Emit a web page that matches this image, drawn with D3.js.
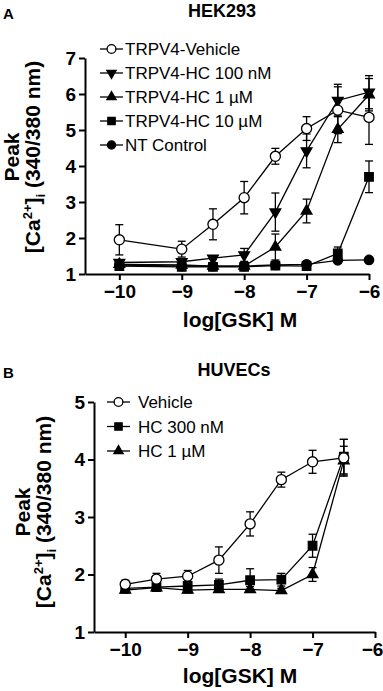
<!DOCTYPE html>
<html>
<head>
<meta charset="utf-8">
<script src="https://cdn.jsdelivr.net/npm/d3@7"></script>
<style>
  body { margin: 0; background: #fff; }
  svg text { font-family: Arial, "Liberation Sans", Helvetica, sans-serif; }
</style>
</head>
<body>
<div id="main"></div>
<script>
// ---- panel A : HEK293 ----
const hekDoses = [-10, -9, -8.5, -8, -7.5, -7, -6.5, -6];
const hekVehicle = [1.95, 1.69, 2.38, 3.12, 4.27, 5.04, 5.55, 5.35];
const hekVehicleErr = [0.42, 0.22, 0.43, 0.45, 0.22, 0.33, 0.65, 0.75];
const hekHC100 = [1.32, 1.34, 1.44, 1.53, 2.72, 4.42, 5.82, 6.05];
const hekHC100Err = [0.05, 0.05, 0.04, 0.18, 0.53, 0.47, 0.45, 0.46];
const hekHC1 = [1.27, 1.25, 1.22, 1.22, 1.75, 2.75, 5.02, 5.98];
const hekHC1Err = [0.04, 0.04, 0.03, 0.04, 0.36, 0.33, 0.37, 0.45];
const hekHC10 = [1.22, 1.2, 1.2, 1.2, 1.23, 1.22, 1.57, 3.7];
const hekHC10Err = [0.04, 0.03, 0.03, 0.03, 0.04, 0.03, 0.18, 0.44];
const hekNT = [1.25, 1.22, 1.22, 1.22, 1.25, 1.27, 1.38, 1.39];
const hekNTErr = [0.03, 0.03, 0.02, 0.02, 0.02, 0.02, 0.03, 0.03];
const hekLabels = ["TRPV4-Vehicle", "TRPV4-HC 100 nM", "TRPV4-HC 1 \u00b5M", "TRPV4-HC 10 \u00b5M", "NT Control"];
const hekYTicks = [1, 2, 3, 4, 5, 6, 7];

// ---- panel B : HUVECs ----
const huvDoses = [-10, -9.5, -9, -8.5, -8, -7.5, -7, -6.5];
const huvVehicle = [1.83, 1.92, 1.97, 2.25, 2.88, 3.65, 3.96, 4.03];
const huvVehicleErr = [0.07, 0.1, 0.1, 0.23, 0.21, 0.13, 0.2, 0.32];
const huvHC300 = [1.76, 1.78, 1.8, 1.82, 1.9, 1.91, 2.5, 4.05];
const huvHC300Err = [0.05, 0.05, 0.05, 0.1, 0.2, 0.11, 0.2, 0.3];
const huvHC1 = [1.73, 1.77, 1.73, 1.74, 1.74, 1.72, 2.0, 3.98];
const huvHC1Err = [0.05, 0.05, 0.05, 0.05, 0.05, 0.04, 0.12, 0.25];
const huvLabels = ["Vehicle", "HC 300 nM", "HC 1 \u00b5M"];
const huvYTicks = [1, 2, 3, 4, 5];

const xTicks = [-10, -9, -8, -7, -6];

const svg = d3.select("#main").append("svg")
    .attr("width", 383)
    .attr("height", 691);

// marker shapes
const shapes = {
    open: {type: d3.symbolCircle, size: 80, fill: "#fff", rot: 0},
    down: {type: d3.symbolTriangle, size: 50, fill: "#000", rot: 180},
    up: {type: d3.symbolTriangle, size: 50, fill: "#000", rot: 0},
    square: {type: d3.symbolSquare, size: 72, fill: "#000", rot: 0},
    dot: {type: d3.symbolCircle, size: 70, fill: "#000", rot: 0}
};

function drawPanel(cfg) {
    const g = svg.append("g");
    const x = d3.scaleLinear().domain(cfg.xDomain).range(cfg.xRange);
    const y = d3.scaleLinear().domain(cfg.yDomain).range(cfg.yRange);

    // panel letter + title
    g.append("text").attr("x", 3).attr("y", cfg.letterY)
        .style("font-size", "15px").style("font-weight", "bold").text(cfg.letter);
    g.append("text").attr("x", cfg.titleX).attr("y", cfg.titleY)
        .attr("text-anchor", "middle")
        .style("font-size", "18px").style("font-weight", "bold").text(cfg.title);

    // axes
    const yAxis = g.append("g")
        .attr("transform", `translate(${cfg.xRange[0]},0)`)
        .call(d3.axisLeft(y).tickValues(cfg.yTicks).tickSize(6).tickSizeOuter(0).tickPadding(3).tickFormat(d3.format("d")));
    const xAxis = g.append("g")
        .attr("transform", `translate(0,${cfg.yRange[0]})`)
        .call(d3.axisBottom(x).tickValues(xTicks).tickSize(6).tickSizeOuter(0).tickPadding(5).tickFormat(d3.format("d")));
    [yAxis, xAxis].forEach(a => {
        a.selectAll("path, line").attr("stroke", "#000").attr("stroke-width", 2);
        a.selectAll("text").style("font-size", "19px").style("font-weight", "bold")
            .style("font-family", "Arial, 'Liberation Sans', sans-serif").attr("fill", "#000");
    });
    // keep the last x label inside the page
    xAxis.selectAll(".tick text").filter(d => d === -6).attr("dx", cfg.lastTickDx || 0);

    // axis titles
    g.append("text").attr("x", cfg.xTitleX).attr("y", cfg.xTitleY)
        .attr("text-anchor", "middle")
        .style("font-size", "21px").style("font-weight", "bold").text("log[GSK] M");
    const yc = cfg.yTitleY;
    g.append("text").attr("transform", `translate(${cfg.yTitle1X},${yc}) rotate(-90)`)
        .attr("text-anchor", "middle")
        .style("font-size", "21px").style("font-weight", "bold").text("Peak");
    const t2 = g.append("text").attr("transform", `translate(${cfg.yTitle2X},${yc}) rotate(-90)`)
        .attr("text-anchor", "middle")
        .style("font-size", "21px").style("font-weight", "bold");
    t2.append("tspan").text("[Ca");
    t2.append("tspan").attr("dy", -8).style("font-size", "13px").text("2+");
    t2.append("tspan").attr("dy", 8).text("]");
    t2.append("tspan").attr("dy", 5).style("font-size", "13px").text("i");
    t2.append("tspan").attr("dy", -5).text(" (340/380 nm)");

    // series: lines, error bars, markers
    const line = d3.line().x(d => x(d.dose)).y(d => y(d.val));
    cfg.series.forEach(s => {
        const pts = cfg.doses.map((dose, i) => ({dose: dose, val: s.values[i], err: s.errs[i]}));
        const sg = g.append("g");
        sg.append("path").datum(pts).attr("d", line)
            .attr("fill", "none").attr("stroke", "#000").attr("stroke-width", 1.3);
        const eb = sg.selectAll("g.err").data(pts).enter().append("g");
        eb.append("line").attr("x1", d => x(d.dose)).attr("x2", d => x(d.dose))
            .attr("y1", d => y(d.val - d.err)).attr("y2", d => y(d.val + d.err));
        eb.append("line").attr("x1", d => x(d.dose) - 4).attr("x2", d => x(d.dose) + 4)
            .attr("y1", d => y(d.val + d.err)).attr("y2", d => y(d.val + d.err));
        eb.append("line").attr("x1", d => x(d.dose) - 4).attr("x2", d => x(d.dose) + 4)
            .attr("y1", d => y(d.val - d.err)).attr("y2", d => y(d.val - d.err));
        eb.selectAll("line").attr("stroke", "#000").attr("stroke-width", 1.3);
        const sh = shapes[s.shape];
        sg.selectAll("path.mk").data(pts).enter().append("path")
            .attr("class", "mk")
            .attr("d", d3.symbol().type(sh.type).size(sh.size))
            .attr("transform", d => `translate(${x(d.dose)},${y(d.val)}) rotate(${sh.rot})`)
            .attr("fill", sh.fill).attr("stroke", "#000").attr("stroke-width", 1.3);
    });

    // legend (same order as the labels)
    cfg.legendOrder.forEach((s, i) => {
        const ly = cfg.legendY + i * cfg.legendStep;
        const sh = shapes[s.shape];
        g.append("line").attr("x1", cfg.legendX).attr("x2", cfg.legendX + cfg.legendW)
            .attr("y1", ly).attr("y2", ly).attr("stroke", "#000").attr("stroke-width", 1.3);
        g.append("path").attr("d", d3.symbol().type(sh.type).size(sh.size * 0.75))
            .attr("transform", `translate(${cfg.legendX + cfg.legendW / 2},${ly}) rotate(${sh.rot})`)
            .attr("fill", sh.fill).attr("stroke", "#000").attr("stroke-width", 1.3);
        g.append("text").attr("x", cfg.legendX + cfg.legendW + cfg.legendGap).attr("y", ly + 6)
            .style("font-size", "17px").text(s.label);
    });
}

const hekSeries = [
    {label: hekLabels[0], shape: "open", values: hekVehicle, errs: hekVehicleErr},
    {label: hekLabels[1], shape: "down", values: hekHC100, errs: hekHC100Err},
    {label: hekLabels[2], shape: "up", values: hekHC1, errs: hekHC1Err},
    {label: hekLabels[3], shape: "square", values: hekHC10, errs: hekHC10Err},
    {label: hekLabels[4], shape: "dot", values: hekNT, errs: hekNTErr}
];
drawPanel({
    letter: "A", letterY: 19, title: "HEK293", titleX: 222, titleY: 17,
    xDomain: [-10.55, -6], xRange: [85, 369],
    yDomain: [1, 7], yRange: [274, 58], yTicks: hekYTicks,
    doses: hekDoses,
    series: [hekSeries[4], hekSeries[3], hekSeries[2], hekSeries[1], hekSeries[0]],
    legendOrder: hekSeries,
    legendX: 100, legendW: 23, legendGap: 2, legendY: 49, legendStep: 24,
    xTitleX: 240, xTitleY: 327,
    yTitle1X: 19, yTitle2X: 40, yTitleY: 157
});

const huvSeries = [
    {label: huvLabels[0], shape: "open", values: huvVehicle, errs: huvVehicleErr},
    {label: huvLabels[1], shape: "square", values: huvHC300, errs: huvHC300Err},
    {label: huvLabels[2], shape: "up", values: huvHC1, errs: huvHC1Err}
];
drawPanel({
    letter: "B", letterY: 378, title: "HUVECs", titleX: 234, titleY: 376,
    xDomain: [-10.5, -6], xRange: [94, 375],
    yDomain: [1, 5], yRange: [632, 402], yTicks: huvYTicks,
    doses: huvDoses,
    series: [huvSeries[2], huvSeries[1], huvSeries[0]],
    legendOrder: huvSeries,
    legendX: 107, legendW: 23, legendGap: 8, legendY: 402, legendStep: 24.5,
    xTitleX: 240, xTitleY: 683,
    yTitle1X: 30, yTitle2X: 51, yTitleY: 512,
    lastTickDx: -3
});
</script>
</body>
</html>
